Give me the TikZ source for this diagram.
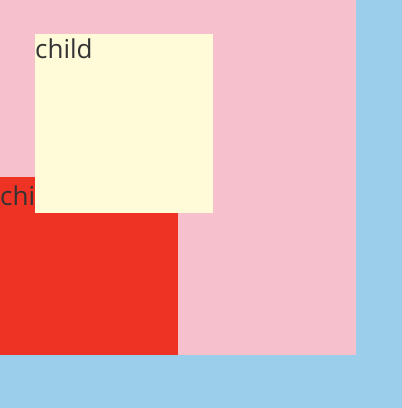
\documentclass[tikz,border=0pt]{standalone}
\usepackage{fontspec}
\setmainfont{Open Sans}
\definecolor{outerblue}{RGB}{154,206,235}
\definecolor{parentpink}{RGB}{246,192,204}
\definecolor{childred}{RGB}{238,50,36}
\definecolor{childyellow}{RGB}{255,250,216}
\definecolor{labelgray}{RGB}{51,51,51}
\tikzset{
  boxlabel/.style={anchor=north west,inner sep=0pt,text=labelgray,font=\fontsize{26}{26}\selectfont}
}
\begin{document}
\begin{tikzpicture}[x=1pt,y=-1pt]
\fill[outerblue] (0,0) rectangle (402,408);
\useasboundingbox (0,0) rectangle (402,408);
\fill[parentpink] (0,0) rectangle (356,355);
\fill[childred] (0,177) rectangle (178,355);
\node[boxlabel] (redlabel) at (0,186) {child};
\fill[childyellow] (35,34) rectangle (213,213);
\node[boxlabel] (yellowlabel) at (35,39) {child};
\end{tikzpicture}
\end{document}
